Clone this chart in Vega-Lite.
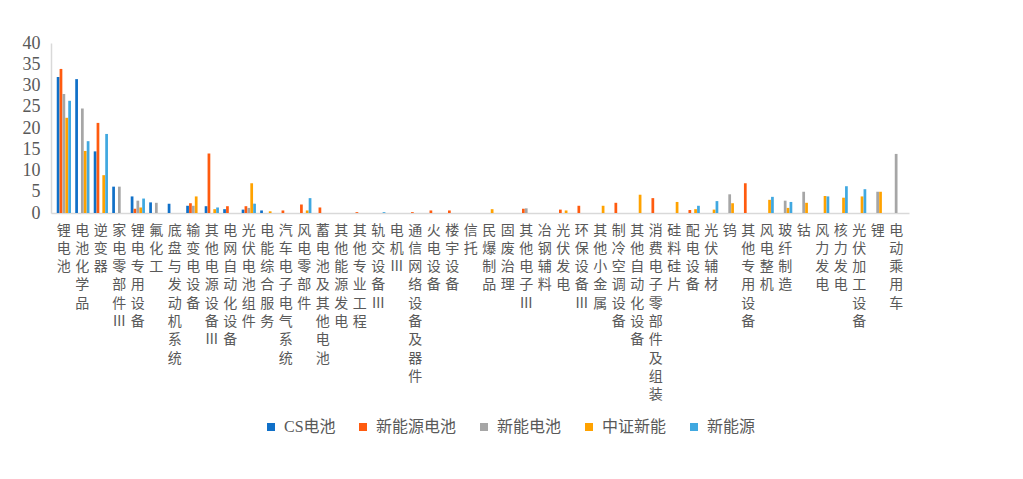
{
  "$schema": "https://vega.github.io/schema/vega-lite/v6.json",
  "autosize": {"type": "none"},
  "width": 858,
  "height": 170,
  "padding": {"left": 51, "top": 43, "right": 114, "bottom": 266},
  "background": "white",
  "config": {
    "view": {"stroke": null},
    "font": "Liberation Serif, Noto Sans CJK SC"
  },
  "data": {
    "values": [
      {"c": "锂电池", "s": "CS电池", "v": 32.0},
      {"c": "锂电池", "s": "新能源电池", "v": 33.9},
      {"c": "锂电池", "s": "新能电池", "v": 28.0},
      {"c": "锂电池", "s": "中证新能", "v": 22.4},
      {"c": "锂电池", "s": "新能源", "v": 26.4},
      {"c": "电池化学品", "s": "CS电池", "v": 31.5},
      {"c": "电池化学品", "s": "新能电池", "v": 24.6},
      {"c": "电池化学品", "s": "中证新能", "v": 14.6},
      {"c": "电池化学品", "s": "新能源", "v": 16.9},
      {"c": "逆变器", "s": "CS电池", "v": 14.5},
      {"c": "逆变器", "s": "新能源电池", "v": 21.2},
      {"c": "逆变器", "s": "中证新能", "v": 8.9},
      {"c": "逆变器", "s": "新能源", "v": 18.6},
      {"c": "家电零部件Ⅲ", "s": "CS电池", "v": 6.2},
      {"c": "家电零部件Ⅲ", "s": "新能电池", "v": 6.2},
      {"c": "锂电专用设备", "s": "CS电池", "v": 3.9},
      {"c": "锂电专用设备", "s": "新能源电池", "v": 1.0},
      {"c": "锂电专用设备", "s": "新能电池", "v": 2.9},
      {"c": "锂电专用设备", "s": "中证新能", "v": 1.3},
      {"c": "锂电专用设备", "s": "新能源", "v": 3.4},
      {"c": "氟化工", "s": "CS电池", "v": 2.5},
      {"c": "氟化工", "s": "新能电池", "v": 2.4},
      {"c": "底盘与发动机系统", "s": "CS电池", "v": 2.2},
      {"c": "输变电设备", "s": "CS电池", "v": 1.7},
      {"c": "输变电设备", "s": "新能源电池", "v": 2.3},
      {"c": "输变电设备", "s": "新能电池", "v": 1.7},
      {"c": "输变电设备", "s": "中证新能", "v": 3.9},
      {"c": "其他电源设备Ⅲ", "s": "CS电池", "v": 1.6},
      {"c": "其他电源设备Ⅲ", "s": "新能源电池", "v": 14.0},
      {"c": "其他电源设备Ⅲ", "s": "中证新能", "v": 0.9},
      {"c": "其他电源设备Ⅲ", "s": "新能源", "v": 1.3},
      {"c": "电网自动化设备", "s": "CS电池", "v": 0.9},
      {"c": "电网自动化设备", "s": "新能源电池", "v": 1.6},
      {"c": "光伏电池组件", "s": "CS电池", "v": 0.8},
      {"c": "光伏电池组件", "s": "新能源电池", "v": 1.6},
      {"c": "光伏电池组件", "s": "新能电池", "v": 1.2},
      {"c": "光伏电池组件", "s": "中证新能", "v": 7.0},
      {"c": "光伏电池组件", "s": "新能源", "v": 2.2},
      {"c": "电能综合服务", "s": "CS电池", "v": 0.6},
      {"c": "电能综合服务", "s": "中证新能", "v": 0.4},
      {"c": "汽车电子电气系统", "s": "新能源电池", "v": 0.6},
      {"c": "风电零部件", "s": "新能源电池", "v": 2.0},
      {"c": "风电零部件", "s": "中证新能", "v": 0.6},
      {"c": "风电零部件", "s": "新能源", "v": 3.5},
      {"c": "蓄电池及其他电池", "s": "新能源电池", "v": 1.3},
      {"c": "其他专业工程", "s": "新能源电池", "v": 0.2},
      {"c": "轨交设备Ⅲ", "s": "新能源", "v": 0.2},
      {"c": "通信网络设备及器件", "s": "新能源电池", "v": 0.2},
      {"c": "火电设备", "s": "新能源电池", "v": 0.6},
      {"c": "楼宇设备", "s": "新能源电池", "v": 0.6},
      {"c": "民爆制品", "s": "中证新能", "v": 0.9},
      {"c": "其他电子Ⅲ", "s": "新能源电池", "v": 1.0},
      {"c": "其他电子Ⅲ", "s": "新能电池", "v": 1.1},
      {"c": "光伏发电", "s": "新能源电池", "v": 0.8},
      {"c": "光伏发电", "s": "中证新能", "v": 0.6},
      {"c": "环保设备Ⅲ", "s": "新能源电池", "v": 1.7},
      {"c": "其他小金属", "s": "中证新能", "v": 1.7},
      {"c": "制冷空调设备", "s": "新能源电池", "v": 2.4},
      {"c": "其他自动化设备", "s": "中证新能", "v": 4.3},
      {"c": "消费电子零部件及组装", "s": "新能源电池", "v": 3.5},
      {"c": "硅料硅片", "s": "中证新能", "v": 2.6},
      {"c": "配电设备", "s": "新能源电池", "v": 0.7},
      {"c": "配电设备", "s": "中证新能", "v": 0.9},
      {"c": "配电设备", "s": "新能源", "v": 1.7},
      {"c": "光伏辅材", "s": "中证新能", "v": 0.8},
      {"c": "光伏辅材", "s": "新能源", "v": 2.8},
      {"c": "钨", "s": "新能电池", "v": 4.4},
      {"c": "钨", "s": "中证新能", "v": 2.3},
      {"c": "其他专用设备", "s": "新能源电池", "v": 7.0},
      {"c": "风电整机", "s": "中证新能", "v": 3.1},
      {"c": "风电整机", "s": "新能源", "v": 3.8},
      {"c": "玻纤制造", "s": "新能电池", "v": 2.9},
      {"c": "玻纤制造", "s": "中证新能", "v": 1.2},
      {"c": "玻纤制造", "s": "新能源", "v": 2.6},
      {"c": "钴", "s": "新能电池", "v": 5.0},
      {"c": "钴", "s": "中证新能", "v": 2.4},
      {"c": "风力发电", "s": "中证新能", "v": 4.0},
      {"c": "风力发电", "s": "新能源", "v": 3.9},
      {"c": "核力发电", "s": "中证新能", "v": 3.6},
      {"c": "核力发电", "s": "新能源", "v": 6.3},
      {"c": "光伏加工设备", "s": "中证新能", "v": 3.9},
      {"c": "光伏加工设备", "s": "新能源", "v": 5.6},
      {"c": "锂", "s": "新能电池", "v": 5.0},
      {"c": "锂", "s": "中证新能", "v": 5.0},
      {"c": "电动乘用车", "s": "新能电池", "v": 13.9}
    ]
  },
  "mark": {"type": "bar"},
  "encoding": {
    "x": {
      "field": "c",
      "type": "nominal",
      "sort": null,
      "scale": {
        "domain": ["锂电池", "电池化学品", "逆变器", "家电零部件Ⅲ", "锂电专用设备", "氟化工", "底盘与发动机系统", "输变电设备", "其他电源设备Ⅲ", "电网自动化设备", "光伏电池组件", "电能综合服务", "汽车电子电气系统", "风电零部件", "蓄电池及其他电池", "其他能源发电", "其他专业工程", "轨交设备Ⅲ", "电机Ⅲ", "通信网络设备及器件", "火电设备", "楼宇设备", "信托", "民爆制品", "固废治理", "其他电子Ⅲ", "冶钢辅料", "光伏发电", "环保设备Ⅲ", "其他小金属", "制冷空调设备", "其他自动化设备", "消费电子零部件及组装", "硅料硅片", "配电设备", "光伏辅材", "钨", "其他专用设备", "风电整机", "玻纤制造", "钴", "风力发电", "核力发电", "光伏加工设备", "锂", "电动乘用车"],
        "paddingInner": 0.23,
        "paddingOuter": 0.31
      },
      "axis": {
        "title": null,
        "ticks": false,
        "domainColor": "#D9D9D9",
        "domainWidth": 1.5,
        "labelAngle": 0,
        "labelAlign": "center",
        "labelBaseline": "top",
        "labelPadding": 10,
        "labelOverlap": false,
        "labelFontSize": 14,
        "labelLineHeight": 18.3,
        "labelColor": "#595959",
        "labelFont": "Noto Sans CJK SC",
        "labelExpr": "split(datum.label, '')"
      }
    },
    "xOffset": {
      "field": "s",
      "type": "nominal",
      "scale": {"domain": ["CS电池", "新能源电池", "新能电池", "中证新能", "新能源"], "paddingInner": 0.05, "paddingOuter": 0}
    },
    "y": {
      "field": "v",
      "type": "quantitative",
      "scale": {"domain": [0, 40]},
      "axis": {
        "title": null,
        "grid": false,
        "ticks": false,
        "values": [0, 5, 10, 15, 20, 25, 30, 35, 40],
        "domainColor": "#D9D9D9",
        "domainWidth": 1.5,
        "labelPadding": 11,
        "labelFontSize": 18,
        "labelFont": "Liberation Serif",
        "labelColor": "#595959"
      }
    },
    "color": {
      "field": "s",
      "type": "nominal",
      "scale": {
        "domain": ["CS电池", "新能源电池", "新能电池", "中证新能", "新能源"],
        "range": ["#1070C8", "#FF5B0F", "#A6A6A6", "#FFA200", "#40A8E0"]
      },
      "legend": {
        "title": null,
        "orient": "none",
        "legendX": 212,
        "legendY": 376,
        "direction": "horizontal",
        "columns": 5,
        "columnPadding": 19,
        "padding": 0,
        "symbolType": "square",
        "symbolSize": 64,
        "symbolStrokeWidth": 0,
        "labelOffset": 5,
        "labelFontSize": 16,
        "labelColor": "#595959",
        "labelFont": "Liberation Serif, Noto Sans CJK SC"
      }
    }
  }
}
